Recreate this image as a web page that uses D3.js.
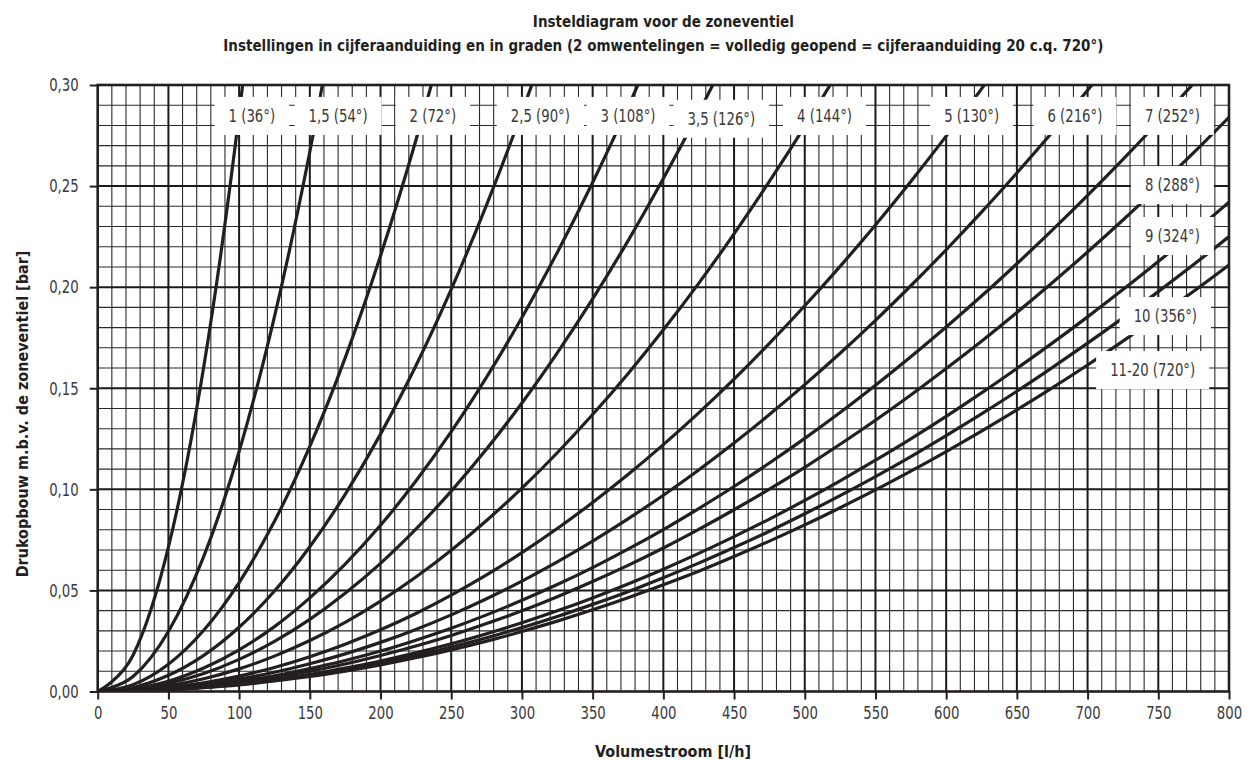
<!DOCTYPE html>
<html lang="nl">
<head>
<meta charset="UTF-8">
<title>Insteldiagram voor de zoneventiel</title>
<script src="https://cdn.jsdelivr.net/npm/d3@7"></script>
<style>
  body { margin: 0; background: #fff; }
  svg text { font-family: "Liberation Sans Narrow", "DejaVu Sans Condensed", "Arial Narrow", sans-serif; }
</style>
</head>
<body>
<svg id="chart" width="1251" height="760"></svg>
<script>
const flow = [0, 25, 50, 75, 100, 125, 150, 175, 200, 225, 250, 275, 300, 325, 350, 375, 400,
              425, 450, 475, 500, 525, 550, 575, 600, 625, 650, 675, 700, 725, 750, 775, 800];

const p1    = [0, 0.0179, 0.0714, 0.1606, 0.2855, 0.4462];
const p1_5  = [0, 0.0074, 0.0297, 0.0668, 0.1187, 0.1854, 0.2670, 0.3634];
const p2    = [0, 0.0034, 0.0135, 0.0303, 0.0539, 0.0842, 0.1212, 0.1650, 0.2155, 0.2727, 0.3366];
const p2_5  = [0, 0.0020, 0.0080, 0.0179, 0.0318, 0.0497, 0.0716, 0.0975, 0.1273, 0.1611, 0.1989,
               0.2407, 0.2865, 0.3362];
const p3    = [0, 0.0013, 0.0051, 0.0116, 0.0206, 0.0321, 0.0463, 0.0630, 0.0822, 0.1041, 0.1285,
               0.1555, 0.1850, 0.2172, 0.2518, 0.2891, 0.3289];
const p3_5  = [0, 0.0010, 0.0040, 0.0089, 0.0159, 0.0248, 0.0357, 0.0486, 0.0634, 0.0803, 0.0991,
               0.1199, 0.1427, 0.1675, 0.1942, 0.2229, 0.2537, 0.2864, 0.3210];
const p4    = [0, 0.0007, 0.0028, 0.0063, 0.0112, 0.0175, 0.0252, 0.0342, 0.0447, 0.0566, 0.0699,
               0.0846, 0.1006, 0.1181, 0.1370, 0.1572, 0.1789, 0.2019, 0.2264, 0.2523, 0.2795, 0.3082];
const p5    = [0, 0.0005, 0.0019, 0.0043, 0.0076, 0.0119, 0.0172, 0.0234, 0.0305, 0.0386, 0.0477,
               0.0577, 0.0687, 0.0806, 0.0935, 0.1073, 0.1221, 0.1378, 0.1545, 0.1722, 0.1908,
               0.2103, 0.2308, 0.2523, 0.2747, 0.2981, 0.3224];
const p6    = [0, 0.0004, 0.0015, 0.0034, 0.0061, 0.0095, 0.0137, 0.0186, 0.0243, 0.0307, 0.0379,
               0.0459, 0.0546, 0.0641, 0.0744, 0.0854, 0.0971, 0.1096, 0.1229, 0.1370, 0.1518,
               0.1673, 0.1836, 0.2007, 0.2185, 0.2371, 0.2565, 0.2766, 0.2974, 0.3191];
const p7    = [0, 0.0003, 0.0013, 0.0028, 0.0050, 0.0078, 0.0113, 0.0153, 0.0200, 0.0254, 0.0313,
               0.0379, 0.0451, 0.0529, 0.0613, 0.0704, 0.0801, 0.0905, 0.1014, 0.1130, 0.1252,
               0.1380, 0.1515, 0.1656, 0.1803, 0.1956, 0.2116, 0.2282, 0.2454, 0.2632, 0.2817,
               0.3008, 0.3205];
const p8    = [0, 0.0003, 0.0011, 0.0025, 0.0044, 0.0069, 0.0100, 0.0136, 0.0178, 0.0225, 0.0277,
               0.0336, 0.0399, 0.0469, 0.0544, 0.0624, 0.0710, 0.0802, 0.0899, 0.1001, 0.1109,
               0.1223, 0.1342, 0.1467, 0.1598, 0.1733, 0.1875, 0.2022, 0.2174, 0.2332, 0.2496,
               0.2665, 0.2840];
const p9    = [0, 0.0002, 0.0010, 0.0021, 0.0038, 0.0059, 0.0085, 0.0116, 0.0151, 0.0191, 0.0236,
               0.0286, 0.0340, 0.0399, 0.0463, 0.0532, 0.0605, 0.0683, 0.0766, 0.0853, 0.0945,
               0.1042, 0.1144, 0.1250, 0.1361, 0.1477, 0.1598, 0.1723, 0.1853, 0.1988, 0.2127,
               0.2271, 0.2420];
const p10   = [0, 0.0002, 0.0009, 0.0020, 0.0035, 0.0055, 0.0079, 0.0108, 0.0141, 0.0178, 0.0220,
               0.0266, 0.0316, 0.0371, 0.0431, 0.0494, 0.0563, 0.0635, 0.0712, 0.0793, 0.0879,
               0.0969, 0.1063, 0.1162, 0.1266, 0.1373, 0.1485, 0.1602, 0.1723, 0.1848, 0.1978,
               0.2112, 0.2250];
const p11_20 = [0, 0.0002, 0.0008, 0.0019, 0.0033, 0.0052, 0.0074, 0.0101, 0.0132, 0.0167, 0.0206,
               0.0249, 0.0297, 0.0348, 0.0404, 0.0464, 0.0528, 0.0595, 0.0668, 0.0744, 0.0824,
               0.0909, 0.0997, 0.1090, 0.1187, 0.1288, 0.1393, 0.1502, 0.1615, 0.1733, 0.1855,
               0.1980, 0.2110];

const settings = ["1 (36°)", "1,5 (54°)", "2 (72°)", "2,5 (90°)", "3 (108°)", "3,5 (126°)",
                  "4 (144°)", "5 (130°)", "6 (216°)", "7 (252°)", "8 (288°)", "9 (324°)",
                  "10 (356°)", "11-20 (720°)"];
const series = [p1, p1_5, p2, p2_5, p3, p3_5, p4, p5, p6, p7, p8, p9, p10, p11_20];

const xTicks = [0, 50, 100, 150, 200, 250, 300, 350, 400, 450, 500, 550, 600, 650, 700, 750, 800];
const yTicks = [0, 0.05, 0.10, 0.15, 0.20, 0.25, 0.30];

// plek van de labels (in l/h en bar)
const labelQ = [109, 170, 237, 313, 375, 441, 514, 618, 691, 760, 760, 760, 755, 746];
const labelP = [0.2847, 0.2847, 0.2847, 0.2847, 0.2847, 0.2833, 0.2847, 0.2847, 0.2847, 0.2847,
                0.2505, 0.2253, 0.1857, 0.1590];

const margin = { top: 85, right: 22, bottom: 68.5, left: 97.7 };
const W = 1251, H = 760;
const width = W - margin.left - margin.right;
const height = H - margin.top - margin.bottom;
const narrow = 0.82; // smaller letters, zoals de smalle letter van het origineel

const svg = d3.select("#chart");
const g = svg.append("g").attr("transform", `translate(${margin.left},${margin.top})`);

const x = d3.scaleLinear().domain([0, 800]).range([0, width]);
const y = d3.scaleLinear().domain([0, 0.30]).range([height, 0]);

const nl = d3.formatLocale({ decimal: ",", thousands: ".", grouping: [3], currency: ["", " €"] });
const fmtY = nl.format(".2f");

// raster
const grid = g.append("g");
grid.selectAll(".vx").data(d3.range(10, 800, 10).filter(v => v % 50 !== 0))
  .join("line")
  .attr("x1", d => x(d)).attr("x2", d => x(d))
  .attr("y1", 0).attr("y2", height)
  .attr("stroke", "#2a2a2a").attr("stroke-width", 1.1);
grid.selectAll(".hy").data(d3.range(1, 30).filter(v => v % 5 !== 0))
  .join("line")
  .attr("x1", 0).attr("x2", width)
  .attr("y1", d => y(d / 100)).attr("y2", d => y(d / 100))
  .attr("stroke", "#2a2a2a").attr("stroke-width", 1.1);
grid.selectAll(".mx").data(xTicks.slice(1, -1))
  .join("line")
  .attr("x1", d => x(d)).attr("x2", d => x(d))
  .attr("y1", 0).attr("y2", height)
  .attr("stroke", "#1a1a1a").attr("stroke-width", 2);
grid.selectAll(".my").data(yTicks.slice(1, -1))
  .join("line")
  .attr("x1", 0).attr("x2", width)
  .attr("y1", d => y(d)).attr("y2", d => y(d))
  .attr("stroke", "#1a1a1a").attr("stroke-width", 2);

// curves
g.append("clipPath").attr("id", "plot")
  .append("rect").attr("width", width).attr("height", height);

const line = d3.line()
  .x((d, i) => x(flow[i]))
  .y(d => y(d))
  .curve(d3.curveCardinal.tension(0));

g.append("g").attr("clip-path", "url(#plot)")
  .selectAll("path").data(series)
  .join("path")
  .attr("d", d => line(d))
  .attr("fill", "none")
  .attr("stroke", "#231f20")
  .attr("stroke-width", 3.2);

// kader
g.append("rect")
  .attr("width", width).attr("height", height)
  .attr("fill", "none").attr("stroke", "#231f20").attr("stroke-width", 2.6);

// assen
const xAxis = g.append("g")
  .attr("transform", `translate(0,${height})`)
  .call(d3.axisBottom(x).tickValues(xTicks).tickSize(8).tickPadding(7).tickFormat(d3.format("d")));
const yAxis = g.append("g")
  .call(d3.axisLeft(y).tickValues(yTicks).tickSize(8).tickPadding(9).tickFormat(fmtY));
[xAxis, yAxis].forEach(a => {
  a.select(".domain").remove();
  a.selectAll(".tick line").attr("stroke", "#231f20").attr("stroke-width", 2);
  a.selectAll(".tick text")
    .attr("fill", "#3a3a3a")
    .style("font-size", "18px")
    .style("font-family", null);
});
xAxis.selectAll(".tick text").attr("transform", `scale(${narrow},1)`);
yAxis.selectAll(".tick text")
  .attr("x", -19 / narrow)
  .attr("transform", `scale(${narrow},1)`);

// labels met witte achtergrond
const labels = g.append("g").selectAll("g").data(settings).join("g")
  .attr("transform", (d, i) => `translate(${x(labelQ[i])},${y(labelP[i])})`);
labels.append("text")
  .attr("text-anchor", "middle")
  .attr("dy", "0.35em")
  .attr("fill", "#3a3a3a")
  .attr("transform", `scale(${narrow},1)`)
  .style("font-size", "18px")
  .text(d => d);
labels.each(function () {
  const grp = d3.select(this);
  const b = grp.select("text").node().getBBox();
  grp.insert("rect", "text")
    .attr("x", b.x * narrow - 14).attr("y", -19)
    .attr("width", b.width * narrow + 28).attr("height", 38)
    .attr("fill", "#fff");
});

// titels
svg.append("text")
  .attr("x", margin.left + width / 2).attr("y", 27)
  .attr("text-anchor", "middle").attr("font-weight", "bold")
  .attr("fill", "#231f20").style("font-size", "15px")
  .text("Insteldiagram voor de zoneventiel");
svg.append("text")
  .attr("x", margin.left + width / 2).attr("y", 51)
  .attr("text-anchor", "middle").attr("font-weight", "bold")
  .attr("fill", "#231f20").style("font-size", "15px")
  .text("Instellingen in cijferaanduiding en in graden (2 omwentelingen = volledig geopend = cijferaanduiding 20 c.q. 720°)");

svg.append("text")
  .attr("x", 673).attr("y", 757)
  .attr("text-anchor", "middle").attr("font-weight", "bold")
  .attr("fill", "#231f20").style("font-size", "16px")
  .text("Volumestroom [l/h]");

svg.append("text")
  .attr("transform", "translate(28,414) rotate(-90)")
  .attr("text-anchor", "middle").attr("font-weight", "bold")
  .attr("fill", "#231f20").style("font-size", "16px")
  .text("Drukopbouw m.b.v. de zoneventiel [bar]");
</script>
</body>
</html>
